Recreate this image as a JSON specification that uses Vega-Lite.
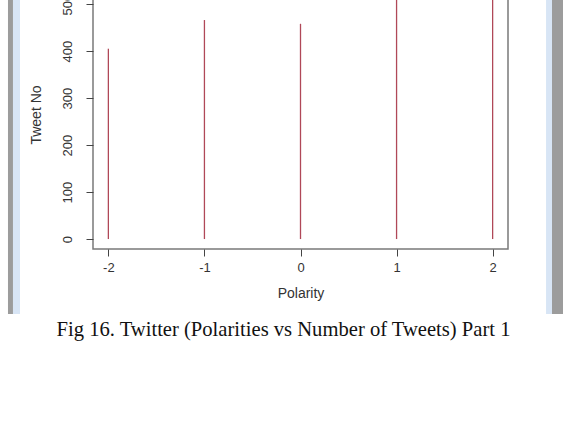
{
  "$schema": "https://vega.github.io/schema/vega-lite/v6.json",
  "width": 415,
  "height": 269,
  "autosize": {"type": "none"},
  "padding": {"left": 93, "top": -20, "right": 55, "bottom": 198},
  "background": "white",
  "config": {
    "view": {"stroke": "#7a7a7a", "strokeWidth": 1.5},
    "axis": {"labelFont": "Liberation Sans", "titleFont": "Liberation Sans", "labelColor": "#333", "titleColor": "#333", "titleFontWeight": "normal", "domain": false, "grid": false, "tickColor": "#444", "tickSize": 7, "labelFontSize": 13, "titleFontSize": 14}
  },
  "title": {
    "text": "Fig 16. Twitter (Polarities vs Number of Tweets) Part 1",
    "orient": "bottom",
    "anchor": "middle",
    "font": "Liberation Serif",
    "fontSize": 20.6,
    "fontWeight": "normal",
    "color": "#111",
    "offset": 6,
    "dx": -17
  },
  "data": {"values": [
    {"polarity": -2, "tweets": 405},
    {"polarity": -1, "tweets": 466},
    {"polarity": 0, "tweets": 458},
    {"polarity": 1, "tweets": 535},
    {"polarity": 2, "tweets": 530}
  ]},
  "layer": [
    {
      "mark": {"type": "rule", "color": "#b04858", "strokeWidth": 1.3},
      "encoding": {
        "x": {"field": "polarity", "type": "quantitative",
              "scale": {"domain": [-2.16, 2.16], "nice": false, "zero": false},
              "axis": {"title": "Polarity", "values": [-2, -1, 0, 1, 2], "labelExpr": "'' + datum.value", "labelPadding": 5, "titlePadding": 12, "labelFlush": false}},
        "y": {"field": "tweets", "type": "quantitative",
              "scale": {"domain": [-21.2, 551.2], "nice": false, "zero": false},
              "axis": {"title": "Tweet No", "values": [0, 100, 200, 300, 400, 500], "labelAngle": -90, "labelAlign": "center", "labelBaseline": "bottom", "labelPadding": 12, "titlePadding": 18, "labelFlush": false}},
        "y2": {"datum": 0}
      }
    },
    {
      "data": {"values": [{"part": "frame"}]},
      "mark": {"type": "rect", "color": "#9c9c9c", "clip": false},
      "encoding": {
        "x": {"datum": -3.045, "type": "quantitative"},
        "x2": {"datum": -2.993},
        "y": {"datum": -159.6, "type": "quantitative"},
        "y2": {"datum": 700}
      }
    },
    {
      "data": {"values": [{"part": "frame"}]},
      "mark": {"type": "rect", "color": "#d8e5f5", "clip": false},
      "encoding": {
        "x": {"datum": -2.993, "type": "quantitative"},
        "x2": {"datum": -2.92},
        "y": {"datum": -159.6, "type": "quantitative"},
        "y2": {"datum": 700}
      }
    },
    {
      "data": {"values": [{"part": "frame"}]},
      "mark": {"type": "rect", "color": "#d8e5f5", "clip": false},
      "encoding": {
        "x": {"datum": 2.556, "type": "quantitative"},
        "x2": {"datum": 2.618},
        "y": {"datum": -159.6, "type": "quantitative"},
        "y2": {"datum": 700}
      }
    },
    {
      "data": {"values": [{"part": "frame"}]},
      "mark": {"type": "rect", "color": "#9c9c9c", "clip": false},
      "encoding": {
        "x": {"datum": 2.618, "type": "quantitative"},
        "x2": {"datum": 2.9},
        "y": {"datum": -159.6, "type": "quantitative"},
        "y2": {"datum": 700}
      }
    }
  ]
}
